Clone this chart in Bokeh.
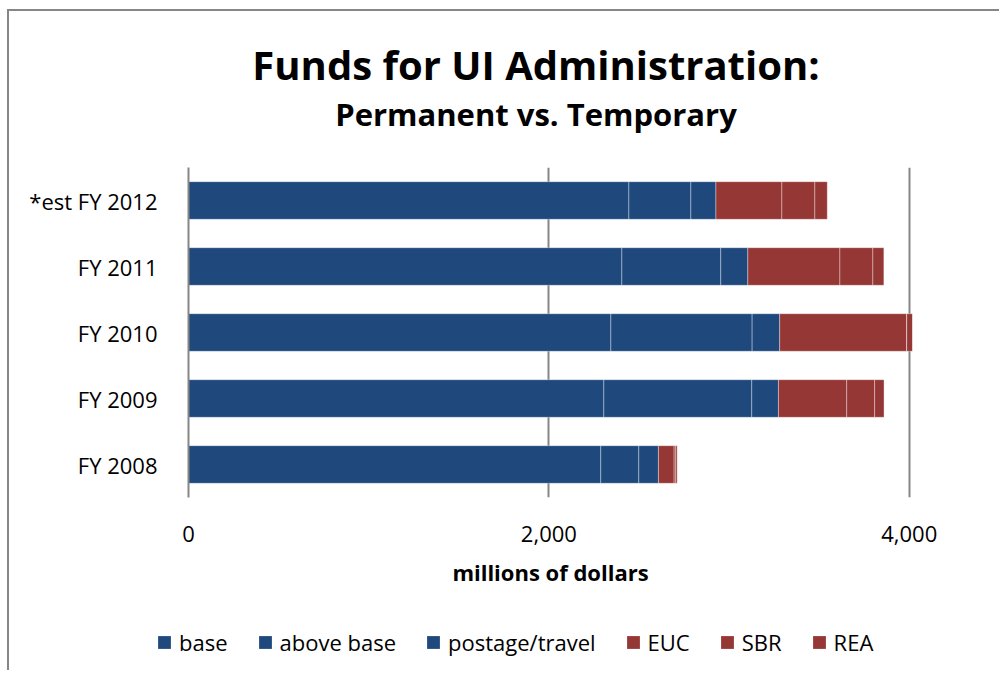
from bokeh.plotting import figure
from bokeh.layouts import column
from bokeh.models import (FactorRange, Range1d, Label, Legend, LegendItem,
                          NumeralTickFormatter, FixedTicker, ColumnDataSource)
from bokeh.embed import file_html
from bokeh.resources import INLINE

# ---- data (millions of dollars) ----
years = ["FY 2008", "FY 2009", "FY 2010", "FY 2011", "*est FY 2012"]
base = [2288, 2305, 2344, 2405, 2444]
above_base = [211, 821, 784, 549, 344]
postage_travel = [109, 148, 153, 150, 139]
euc = [87, 379, 705, 511, 366]
sbr = [9, 155, 0, 183, 183]
rea = [8, 52, 32, 61, 69]
series = ["base", "above base", "postage/travel", "EUC", "SBR", "REA"]
x_ticks = [0, 2000, 4000]
title_text = "Funds for UI Administration:"
subtitle_text = "Permanent vs. Temporary"
x_label = "millions of dollars"

BLUE = "#1f497d"
RED = "#953735"
GRAY = "#868686"
FONT = "Open Sans"
colors = [BLUE, BLUE, BLUE, RED, RED, RED]
W = 990


def no_align(fig):
    if "frame_align" in fig.properties():
        fig.frame_align = False


def blank(fig):
    fig.axis.visible = False
    fig.grid.grid_line_color = None
    fig.outline_line_color = None
    fig.background_fill_color = "white"
    fig.border_fill_color = "white"
    no_align(fig)


# ---- title strip ----
TH = 140
t = figure(width=W, height=TH, output_backend="svg", toolbar_location=None,
           x_range=Range1d(0, W), y_range=Range1d(0, TH), min_border=0)
blank(t)
t.add_layout(Label(x=526.5, y=87, text=title_text, text_align="center",
                   text_baseline="middle", text_font=FONT, text_font_size="40px",
                   text_font_style="bold", text_color="black"))
t.add_layout(Label(x=526.5, y=38, text=subtitle_text, text_align="center",
                   text_baseline="middle", text_font=FONT, text_font_size="31px",
                   text_font_style="bold", text_color="black"))

# ---- main chart ----
source = ColumnDataSource(dict(
    year=years, **{"base": base, "above base": above_base,
                   "postage/travel": postage_travel, "EUC": euc,
                   "SBR": sbr, "REA": rea}))

PH = 449
p = figure(width=W, height=PH, output_backend="svg", toolbar_location=None,
           y_range=FactorRange(factors=years), x_range=Range1d(0, 4018),
           min_border_left=179, min_border_right=87, min_border_top=16,
           min_border_bottom=PH - 16 - 330)
no_align(p)
p.outline_line_color = None
p.background_fill_color = "white"
p.border_fill_color = "white"

p.hbar_stack(series, y="year", height=0.57, color=colors,
             line_color="white", line_alpha=0.35, line_width=1, source=source)

p.ygrid.grid_line_color = None
p.xgrid.ticker = FixedTicker(ticks=x_ticks)
p.xgrid.grid_line_color = GRAY
p.xgrid.grid_line_width = 2

p.xaxis.ticker = FixedTicker(ticks=x_ticks)
p.xaxis.formatter = NumeralTickFormatter(format="0,0")
p.xaxis.axis_line_color = None
p.xaxis.major_tick_line_color = None
p.xaxis.minor_tick_line_color = None
p.xaxis.major_label_text_font = FONT
p.xaxis.major_label_text_font_size = "22px"
p.xaxis.major_label_text_color = "black"
p.xaxis.major_label_standoff = 22
p.xaxis.axis_label = x_label
p.xaxis.axis_label_text_font = FONT
p.xaxis.axis_label_text_font_size = "22px"
p.xaxis.axis_label_text_font_style = "bold"
p.xaxis.axis_label_text_color = "black"
p.xaxis.axis_label_standoff = 12

p.yaxis.axis_line_color = GRAY
p.yaxis.axis_line_width = 2
p.yaxis.major_tick_line_color = None
p.yaxis.minor_tick_line_color = None
p.yaxis.major_label_text_font = FONT
p.yaxis.major_label_text_font_size = "22px"
p.yaxis.major_label_text_color = "black"
p.yaxis.major_label_standoff = 25

# ---- legend strip ----
LH = 70
q = figure(width=W, height=LH, output_backend="svg", toolbar_location=None,
           x_range=Range1d(0, W), y_range=Range1d(0, LH), min_border=0)
blank(q)
# off-screen swatch renderers, used only to draw the legend keys
swatches = [q.hbar(y=[-100], left=[0], right=[1], height=1,
                   fill_color=c, line_color=None) for c in colors]
legend = Legend(items=[LegendItem(label=s, renderers=[r])
                       for s, r in zip(series, swatches)],
                orientation="horizontal", location=(147, 13),
                border_line_color=None, background_fill_alpha=0, padding=0,
                margin=0, spacing=29, glyph_width=16, glyph_height=16,
                label_standoff=7, label_text_font=FONT,
                label_text_font_size="22px", label_text_color="black")
q.add_layout(legend, "center")

layout = column(t, p, q, spacing=0)
layout.styles = {"border-top": f"2px solid {GRAY}", "border-left": f"2px solid {GRAY}",
                 "margin-left": "7px", "margin-top": "9px"}

open("out.html", "w").write(file_html(layout, INLINE))
